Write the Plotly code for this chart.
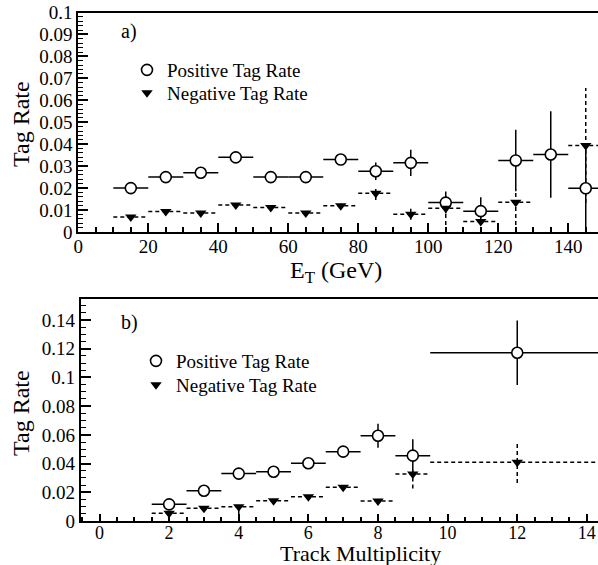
import plotly.graph_objects as go

# ---------------- data: panel a) (E_T) ----------------
et_centers = [15, 25, 35, 45, 55, 65, 75, 85, 95, 105, 115, 125, 135, 145]
et_halfwidth = [5, 5, 5, 5, 5, 5, 5, 5, 5, 5, 5, 5, 5, 5]
pos_et = [0.020, 0.025, 0.027, 0.034, 0.025, 0.025, 0.033, 0.0277, 0.0315,
          0.0134, 0.0095, 0.0326, 0.0353, 0.0199]
pos_et_err = [0.001, 0.001, 0.001, 0.001, 0.001, 0.001, 0.002, 0.004, 0.006,
              0.005, 0.0063, 0.014, 0.0197, 0.019]
neg_et = [0.0068, 0.0093, 0.0086, 0.0123, 0.0112, 0.0086, 0.012, 0.0176, 0.0081,
          0.0108, 0.0048, 0.0135, None, 0.0394]
neg_et_err_plus = [0.001, 0.001, 0.001, 0.001, 0.001, 0.001, 0.001, 0.003, 0.0025,
                   0.005, 0.002, 0.006, None, 0.0262]
neg_et_err_minus = [0.001, 0.001, 0.001, 0.001, 0.001, 0.001, 0.001, 0.003, 0.0025,
                    0.0108, 0.0048, 0.0135, None, 0.0262]

# ---------------- data: panel b) (track multiplicity) ----------------
mult_centers = [2, 3, 4, 5, 6, 7, 8, 9, 12]
mult_halfwidth = [0.5, 0.5, 0.5, 0.5, 0.5, 0.5, 0.5, 0.5, 2.5]
pos_mult = [0.0116, 0.0211, 0.033, 0.0343, 0.0402, 0.0483, 0.0594, 0.0455, 0.1172]
pos_mult_err = [0.0015, 0.002, 0.002, 0.002, 0.002, 0.003, 0.0084, 0.0115, 0.0225]
neg_mult = [0.0054, 0.0088, 0.010, 0.0141, 0.0169, 0.0235, 0.0139, 0.0327, 0.0409]
neg_mult_err_plus = [0.001, 0.001, 0.001, 0.001, 0.001, 0.001, 0.001, 0.003, 0.0145]
neg_mult_err_minus = [0.0054, 0.001, 0.010, 0.001, 0.001, 0.001, 0.001, 0.010, 0.0145]

FONT = "Liberation Serif"
W, H = 598, 565


def px_x(p):
    return p / W


def px_y(p):
    return 1 - p / H


def hsegs(xc, hw, y):
    xs, ys = [], []
    for c, w, v in zip(xc, hw, y):
        if v is None:
            continue
        xs += [c - w, c + w, None]
        ys += [v, v, None]
    return xs, ys


def vsegs(xc, y, ep, em):
    xs, ys = [], []
    for c, v, p, m in zip(xc, y, ep, em):
        if v is None:
            continue
        xs += [c, c, None]
        ys += [v - m, v + p, None]
    return xs, ys


fig = go.Figure()

dash_line = dict(color="black", width=1.5, dash="4px,3px")


def add_panel(xa, ya, leg_pos, leg_neg, xc, hw, pos, pos_err, neg, nep, nem):
    hx, hy = hsegs(xc, hw, neg)
    fig.add_trace(go.Scatter(x=hx, y=hy, mode="lines", line=dash_line,
                             xaxis=xa, yaxis=ya, showlegend=False, hoverinfo="skip"))
    vx, vy = vsegs(xc, neg, nep, nem)
    fig.add_trace(go.Scatter(x=vx, y=vy, mode="lines", line=dash_line,
                             xaxis=xa, yaxis=ya, showlegend=False, hoverinfo="skip"))
    fig.add_trace(go.Scatter(
        x=xc, y=pos, mode="markers", name="Positive Tag Rate",
        marker=dict(symbol="circle", size=11, color="white",
                    line=dict(color="black", width=1.6)),
        error_x=dict(type="data", array=hw, symmetric=True, color="black",
                     thickness=1.5, width=0),
        error_y=dict(type="data", array=pos_err, symmetric=True, color="black",
                     thickness=1.5, width=0),
        xaxis=xa, yaxis=ya, legend=leg_pos))
    fig.add_trace(go.Scatter(
        x=xc, y=neg, mode="markers", name="Negative Tag Rate",
        marker=dict(symbol="triangle-down", size=10, color="black",
                    line=dict(color="black", width=0)),
        xaxis=xa, yaxis=ya, legend=leg_neg))


add_panel("x", "y", "legend", "legend2", et_centers, et_halfwidth, pos_et, pos_et_err,
          neg_et, neg_et_err_plus, neg_et_err_minus)
add_panel("x2", "y2", "legend3", "legend4", mult_centers, mult_halfwidth, pos_mult,
          pos_mult_err, neg_mult, neg_mult_err_plus, neg_mult_err_minus)

axis_common = dict(showgrid=False, zeroline=False, showline=True, linecolor="black",
                   linewidth=2, ticks="inside", tickcolor="black", tickwidth=1.5,
                   automargin=False,
                   tickfont=dict(family=FONT, size=19, color="black"))

top_x = dict(axis_common, domain=[px_x(78.3), 1], range=[0, 148.5], anchor="y",
             tickmode="array", tickvals=[0, 20, 40, 60, 80, 100, 120, 140],
             ticklen=9, mirror=True, ticklabelstandoff=-4,
             minor=dict(tickmode="array",
                        tickvals=[5, 10, 15, 25, 30, 35, 45, 50, 55, 65, 70, 75, 85, 90, 95,
                                  105, 110, 115, 125, 130, 135, 145],
                        ticks="inside", ticklen=5, tickcolor="black", tickwidth=1.5))
top_y = dict(axis_common, domain=[px_y(232), px_y(12.5)], range=[0, 0.1], anchor="x",
             dtick=0.01, ticklen=10,
             minor=dict(dtick=0.002, ticks="inside", ticklen=5, tickcolor="black", tickwidth=1.2))
bot_x = dict(axis_common, domain=[px_x(80.7), 1], range=[-0.54, 14.32], anchor="y2",
             dtick=2, ticklen=7, mirror=True, ticklabelstandoff=-6,
             tickfont=dict(family=FONT, size=18, color="black"),
             minor=dict(dtick=0.5, ticks="inside", ticklen=4, tickcolor="black", tickwidth=1.5))
bot_y = dict(axis_common, domain=[px_y(521), px_y(299.3)], range=[0, 0.1544], anchor="x2",
             dtick=0.02, ticklen=10,
             minor=dict(dtick=0.005, ticks="inside", ticklen=5, tickcolor="black", tickwidth=1.2))

legend_font = dict(family=FONT, size=19, color="black")


def leg(xp, yp):
    return dict(x=px_x(xp), y=px_y(yp), xanchor="left", yanchor="top",
                font=legend_font, bgcolor="rgba(0,0,0,0)", itemwidth=30,
                tracegroupgap=0)


annotations = [
    dict(text="a)", x=px_x(129), y=px_y(31), xref="paper", yref="paper",
         xanchor="center", yanchor="middle",
         showarrow=False, font=dict(family=FONT, size=20, color="black")),
    dict(text="b)", x=px_x(129), y=px_y(322), xref="paper", yref="paper",
         xanchor="center", yanchor="middle",
         showarrow=False, font=dict(family=FONT, size=20, color="black")),
    dict(text="E<sub>T</sub> (GeV)", x=px_x(336), y=px_y(272), xref="paper", yref="paper",
         xanchor="center", yanchor="middle",
         showarrow=False, font=dict(family=FONT, size=24, color="black")),
    dict(text="Track Multiplicity", x=px_x(360), y=px_y(553.5), xref="paper", yref="paper",
         xanchor="center", yanchor="middle",
         showarrow=False, font=dict(family=FONT, size=22, color="black")),
    dict(text="Tag Rate", x=px_x(21), y=px_y(124), xref="paper", yref="paper",
         xanchor="center", yanchor="middle",
         showarrow=False, textangle=-90, font=dict(family=FONT, size=24, color="black")),
    dict(text="Tag Rate", x=px_x(21), y=px_y(413), xref="paper", yref="paper",
         xanchor="center", yanchor="middle",
         showarrow=False, textangle=-90, font=dict(family=FONT, size=24, color="black")),
]

fig.update_layout(
    width=W, height=H, margin=dict(l=0, r=0, t=0, b=0, pad=0, autoexpand=False),
    paper_bgcolor="white", plot_bgcolor="white",
    xaxis=top_x, yaxis=top_y, xaxis2=bot_x, yaxis2=bot_y,
    legend=leg(127, 51),
    legend2=leg(127, 74),
    legend3=leg(136, 342),
    legend4=leg(136, 366),
    annotations=annotations,
)

fig.write_html("out.html")
